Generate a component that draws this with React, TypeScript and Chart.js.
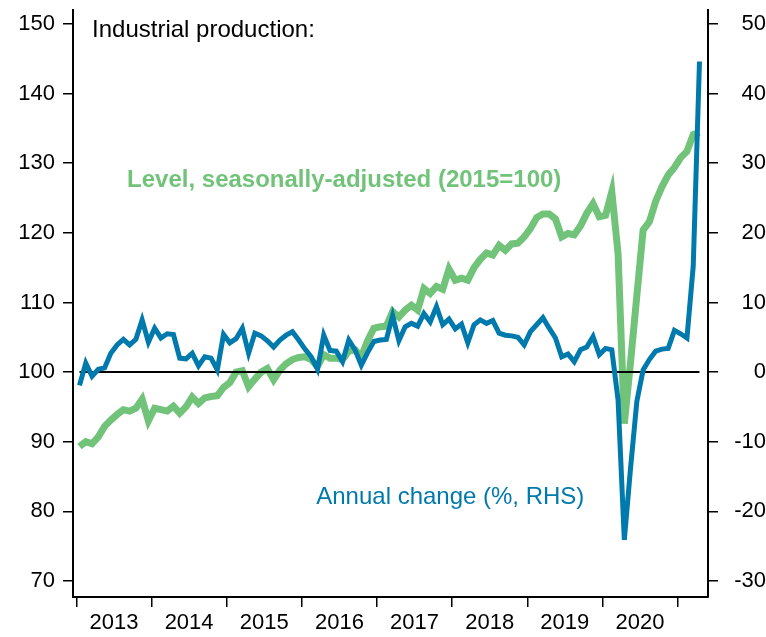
import React, { useEffect, useRef } from 'react';
import { Chart, registerables } from 'chart.js';

Chart.register(...registerables);

// Monthly data, Jan 2013 .. Apr 2021
const yearLabels = ['2013', '2014', '2015', '2016', '2017', '2018', '2019', '2020'];

const levelSA = [
  89.3, 90.0, 89.7, 90.7, 92.2, 93.1, 93.9, 94.6, 94.4, 94.8, 96.1, 93.0,
  94.8, 94.6, 94.4, 95.1, 94.1, 95.0, 96.4, 95.5, 96.3, 96.5, 96.6, 97.8,
  98.5, 100.0, 100.2, 97.9, 99.0, 100.0, 100.5, 98.9, 100.3, 101.2, 101.8, 102.1,
  102.2, 101.8, 100.8, 102.5, 102.0, 102.0, 101.8, 103.0, 103.2, 102.2, 104.5, 106.3,
  106.5, 106.6, 108.7, 107.9, 108.9, 109.6, 108.9, 112.0, 111.3, 112.3, 111.9, 114.8,
  113.2, 113.5, 113.2, 115.0, 116.2, 117.1, 116.8, 118.2, 117.5, 118.4, 118.5, 119.4,
  120.6, 122.2, 122.7, 122.7, 122.0, 119.4, 119.9, 119.7, 121.0, 122.8, 124.2, 122.3,
  122.5, 125.9, 117.0, 92.6, 101.5, 111.0, 120.4, 121.6, 124.5, 126.6, 128.3, 129.4,
  130.8, 131.7, 134.1, 134.4,
];

const annualChange = [
  -1.9, 1.3, -0.6, 0.4, 0.6, 2.7, 3.9, 4.7, 3.9, 4.7, 7.5, 4.3,
  6.3, 4.9, 5.5, 5.4, 2.0, 1.9, 2.7, 0.9, 2.2, 2.0, 0.3, 5.4,
  4.2, 4.8, 6.3, 2.7, 5.6, 5.2, 4.5, 3.6, 4.6, 5.3, 5.8, 4.6,
  3.3, 2.2, 0.4, 5.3, 3.1, 3.0, 1.5, 4.6, 3.2, 1.0, 2.8, 4.4,
  4.6, 4.7, 8.1, 4.5, 6.5, 7.0, 6.6, 8.4, 7.2, 9.4, 6.8, 7.6,
  6.2, 6.9, 4.2, 6.8, 7.5, 7.0, 7.4, 5.6, 5.3, 5.2, 5.0, 3.9,
  5.8, 6.8, 7.8, 6.3, 4.9, 2.2, 2.6, 1.5, 3.2, 3.6, 5.1, 2.5,
  3.4, 3.2, -4.0, -24.1, -13.7, -4.2, 0.3, 1.8, 3.0, 3.3, 3.4, 6.0,
  5.5, 4.9, 15.2, 44.6,
];

const leftTicks = [70, 80, 90, 100, 110, 120, 130, 140, 150];
const rightTicks = [-30, -20, -10, 0, 10, 20, 30, 40, 50];

const GREEN = '#72C37A';
const BLUE = '#0079AD';
const FONT = '"Liberation Sans", Arial, Helvetica, sans-serif';

const notes = [
  { text: 'Industrial production:', x: 2.0, y: 149.1, color: '#000', bold: false },
  { text: 'Level, seasonally-adjusted (2015=100)', x: 7.6, y: 127.6, color: GREEN, bold: true },
  { text: 'Annual change (%, RHS)', x: 37.8, y: 82.0, color: BLUE, bold: false },
];

const yearBoundaries = yearLabels.map((_, k) => -0.5 + 12 * k).concat([-0.5 + 12 * yearLabels.length]);
const yearMids = yearLabels.map((_, k) => 5.5 + 12 * k);

export default function App() {
  const ref = useRef<HTMLCanvasElement | null>(null);

  useEffect(() => {
    if (!ref.current) return;
    const notePlugin = {
      id: 'notes',
      afterDatasetsDraw(chart: any) {
        const { ctx, scales } = chart;
        notes.forEach((n) => {
          ctx.save();
          ctx.font = `${n.bold ? 'bold ' : ''}24px ${FONT}`;
          ctx.fillStyle = n.color;
          ctx.textBaseline = 'middle';
          ctx.textAlign = 'left';
          ctx.fillText(n.text, scales.x.getPixelForValue(n.x), scales.yL.getPixelForValue(n.y));
          ctx.restore();
        });
      },
    };

    const fitV = (w: number) => (s: any) => {
      s.width = w;
      s.paddingTop = 10;
      s.paddingBottom = 0;
    };

    const chart = new Chart(ref.current, {
      type: 'line',
      data: {
        datasets: [
          {
            data: levelSA.map((v, i) => ({ x: i, y: v })),
            yAxisID: 'yL',
            borderColor: GREEN,
            borderWidth: 7,
            pointRadius: 0,
            tension: 0,
            order: 3,
          },
          {
            data: annualChange.map((_, i) => ({ x: i, y: 0 })),
            yAxisID: 'yR',
            borderColor: '#000',
            borderWidth: 2,
            pointRadius: 0,
            order: 2,
          },
          {
            data: annualChange.map((v, i) => ({ x: i, y: v })),
            yAxisID: 'yR',
            borderColor: BLUE,
            borderWidth: 5,
            pointRadius: 0,
            tension: 0,
            order: 1,
          },
        ],
      },
      options: {
        responsive: false,
        animation: false,
        layout: { padding: { top: 0, left: 0, right: 0, bottom: 0 } },
        plugins: { legend: { display: false }, tooltip: { enabled: false } },
        scales: {
          x: {
            type: 'linear',
            position: 'bottom',
            min: -1.04,
            max: 100.36,
            afterBuildTicks: (s: any) => {
              s.ticks = yearBoundaries.concat(yearMids).sort((a, b) => a - b).map((v) => ({ value: v }));
            },
            afterFit: (s: any) => {
              s.height = 40;
              s.paddingLeft = 0;
              s.paddingRight = 0;
            },
            grid: {
              drawOnChartArea: false,
              drawTicks: true,
              tickLength: 10,
              lineWidth: 1.5,
              color: (c: any) => (c.tick && ((c.tick.value + 0.5) % 12 === 0) ? '#000' : 'rgba(0,0,0,0)'),
            },
            border: { display: true, color: '#000', width: 2 },
            ticks: {
              autoSkip: false,
              maxRotation: 0,
              minRotation: 0,
              color: '#000',
              padding: 5,
              font: { family: FONT, size: 22, lineHeight: 1 },
              callback: (v: any) => {
                const k = (Number(v) - 5.5) / 12;
                return Number.isInteger(k) && yearLabels[k] ? yearLabels[k] : '';
              },
            },
          },
          yL: {
            type: 'linear',
            position: 'left',
            min: 67.7,
            max: 152.0,
            afterBuildTicks: (s: any) => {
              s.ticks = leftTicks.map((v) => ({ value: v }));
            },
            afterFit: fitV(73),
            grid: { drawOnChartArea: false, drawTicks: true, tickLength: 10, lineWidth: 1.5, color: '#000' },
            border: { display: true, color: '#000', width: 2 },
            ticks: { color: '#000', padding: 8, font: { family: FONT, size: 22, lineHeight: 1 } },
          },
          yR: {
            type: 'linear',
            position: 'right',
            min: -32.3,
            max: 52.0,
            afterBuildTicks: (s: any) => {
              s.ticks = rightTicks.map((v) => ({ value: v }));
            },
            afterFit: fitV(58),
            grid: { drawOnChartArea: false, drawTicks: true, tickLength: 10, lineWidth: 1.5, color: '#000' },
            border: { display: true, color: '#000', width: 2 },
            ticks: { color: '#000', padding: 11, crossAlign: 'far', font: { family: FONT, size: 22, lineHeight: 1 } },
          },
        },
      },
      plugins: [notePlugin],
    } as any);
    return () => chart.destroy();
  }, []);

  return (
    <div style={{ position: 'absolute', left: 0, top: 0, width: 766, height: 637, background: '#fff' }}>
      <canvas ref={ref} width={766} height={637} />
    </div>
  );
}
